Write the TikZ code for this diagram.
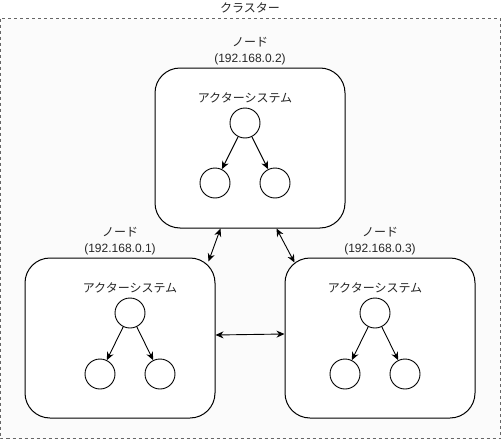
\documentclass[tikz,border=0pt]{standalone}
\usepackage{fontspec}
\setmainfont{Liberation Sans}
\newfontfamily\jpfont{Noto Sans CJK JP}
\usetikzlibrary{arrows.meta}

\tikzset{
  label text/.style={font=\fontsize{12}{16}\selectfont, text=black!85, align=center, inner sep=0pt},
  hostbox/.style={draw, line width=1pt, fill=white, rounded corners=25pt, minimum width=190pt, minimum height=160pt},
  actor/.style={draw, line width=0.9pt, circle, fill=white, minimum size=30pt, inner sep=0pt},
  child link/.style={-{Stealth[length=8pt,width=7pt]}, line width=0.9pt},
  host link/.style={{Stealth[length=8pt,width=7pt]}-{Stealth[length=8pt,width=7pt]}, line width=0.9pt}
}

\begin{document}
\begin{tikzpicture}[x=1pt,y=-1pt]
   \useasboundingbox (0,0) rectangle (501,439);

   % cluster
   \draw [dashed, draw=black!60, fill=black!1.5] (0.5,18.5) rectangle (500.5,438.5);
   \node [label text] (cluster) at (250,8) {\jpfont クラスター};

   % hosts
   \node [hostbox] (host2) at (250,148) {};
   \node [hostbox] (host1) at (120,338) {};
   \node [hostbox] (host3) at (380,338) {};

   \node [label text] (host2label) at (250,51) {\jpfont ノード\\(192.168.0.2)};
   \node [label text] (host1label) at (120,241) {\jpfont ノード\\(192.168.0.1)};
   \node [label text] (host3label) at (380,241) {\jpfont ノード\\(192.168.0.3)};

   % actor systems
   \node [label text] (sys2) at (245,98) {\jpfont アクターシステム};
   \node [actor] (root2) at (245,123) {};
   \node [actor] (left2) at (215,183) {};
   \node [actor] (right2) at (275,183) {};

   \node [label text] (sys1) at (130,288) {\jpfont アクターシステム};
   \node [actor] (root1) at (130,313) {};
   \node [actor] (left1) at (100,374) {};
   \node [actor] (right1) at (160,374) {};

   \node [label text] (sys3) at (375,288) {\jpfont アクターシステム};
   \node [actor] (root3) at (375,313) {};
   \node [actor] (left3) at (345,374) {};
   \node [actor] (right3) at (405,374) {};

   \draw [child link] (root2) -- (left2);
   \draw [child link] (root2) -- (right2);
   \draw [child link] (root1) -- (left1);
   \draw [child link] (root1) -- (right1);
   \draw [child link] (root3) -- (left3);
   \draw [child link] (root3) -- (right3);

   % links between hosts
   \draw [host link] ([xshift=66pt]host2.south west) -- ([xshift=-7pt,yshift=-4pt]host1.north east);
   \draw [host link] ([xshift=-69pt]host2.south east) -- ([xshift=10pt,yshift=-5pt]host3.north west);
   \draw [host link] ([yshift=3pt]host1.east) -- ([yshift=4pt]host3.west);
\end{tikzpicture}
\end{document}
